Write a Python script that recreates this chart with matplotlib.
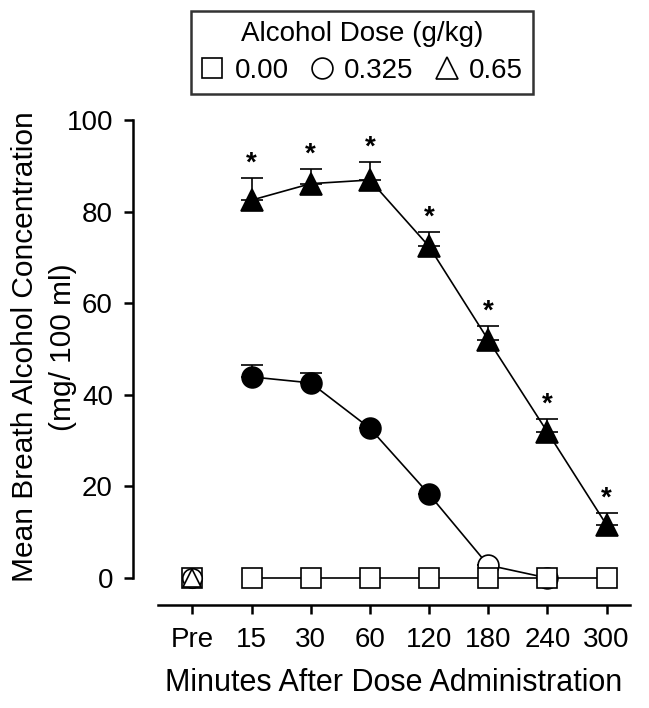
import numpy as np
import matplotlib.pyplot as plt
from matplotlib.lines import Line2D

plt.rcParams["font.family"] = ["Liberation Sans", "DejaVu Sans"]

# ==========================================================
# Data
# ==========================================================

categories = ["Pre", "15", "30", "60", "120", "180", "240", "300"]

dose_labels = ["0.00", "0.325", "0.65"]

bac_000 = [0, 0, 0, 0, 0, 0, 0, 0]
bac_0325 = [0, 43.9, 42.6, 32.7, 18.3, 2.8, 0, np.nan]
bac_065 = [0, 82.5, 86.1, 86.9, 72.4, 52.0, 31.9, 11.6]

sem_0325 = [0, 2.6, 2.1, 0, 0, 0, 0, 0]
sem_065 = [0, 4.8, 3.3, 3.9, 3.1, 3.1, 2.8, 2.6]

# filled = different from placebo
filled_0325 = [False, True, True, True, True, False, False, False]
filled_065 = [False, True, True, True, True, True, True, True]

signif_065 = [False, True, True, True, True, True, True, True]

ylabel_lines = ["Mean Breath Alcohol Concentration", "(mg/ 100 ml)"]

# ==========================================================
# Figure
# ==========================================================

fig = plt.figure(figsize=(6.49, 7.08), dpi=100)
ax = fig.add_axes([0.2435, 0.1455, 0.7275, 0.685])

x = np.arange(len(categories))
LW = 1.2
MS = 15
FS = 20

# post-dose lines (Pre is not connected)
post = x[1:]

# 0.65 triangles
ax.errorbar(post, bac_065[1:],
            yerr=[np.zeros(len(post)), sem_065[1:]],
            fmt="none", ecolor="black", elinewidth=LW,
            capsize=8, capthick=LW, zorder=2)
ax.plot(post, bac_065[1:], color="black", lw=LW, zorder=2)
for xi, yi, f in zip(x, bac_065, filled_065):
    if xi == 0:
        continue
    ax.plot(xi, yi, marker="^", ms=MS + 1,
            mfc="black" if f else "white", mec="black",
            mew=LW, zorder=3, clip_on=False)

# asterisks
for xi, yi, e, s in zip(x, bac_065, sem_065, signif_065):
    if s:
        ax.text(xi, yi + e + 0.3, "*", ha="center", va="bottom",
                fontsize=20, fontweight="bold")

# 0.325 circles
ax.errorbar(post, bac_0325[1:],
            yerr=[np.zeros(len(post)), sem_0325[1:]],
            fmt="none", ecolor="black", elinewidth=LW,
            capsize=8, capthick=LW, zorder=2)
ax.plot(post, bac_0325[1:], color="black", lw=LW, zorder=2)
for xi, yi, f in zip(x, bac_0325, filled_0325):
    if xi == 0 or np.isnan(yi):
        continue
    ax.plot(xi, yi, marker="o", ms=MS,
            mfc="black" if f else "white", mec="black",
            mew=LW, zorder=3, clip_on=False)

# 0.00 squares
ax.plot(post, bac_000[1:], color="black", lw=LW, zorder=4,
        marker="s", ms=MS - 1, mfc="white", mec="black", mew=LW,
        clip_on=False)

# Pre: square, circle, triangle stacked
ax.plot(0, bac_000[0], marker="s", ms=MS - 1, mfc="white", mec="black",
        mew=LW, zorder=5, clip_on=False)
ax.plot(0, bac_0325[0], marker="o", ms=MS - 1, mfc="white", mec="black",
        mew=LW, zorder=6, clip_on=False)
ax.plot(0, bac_065[0], marker="^", ms=MS - 2, mfc="white", mec="black",
        mew=LW, zorder=7, clip_on=False)

# ==========================================================
# Axes styling (Prism style)
# ==========================================================

ax.set_xlim(-0.58, 7.4)
ax.set_ylim(-5.9, 100)

ax.spines["top"].set_visible(False)
ax.spines["right"].set_visible(False)
ax.spines["left"].set_position(("outward", 18))
ax.spines["left"].set_bounds(0, 100)
ax.spines["left"].set_linewidth(1.8)
ax.spines["bottom"].set_linewidth(1.8)

ax.set_yticks([0, 20, 40, 60, 80, 100])
ax.set_xticks(x)
ax.set_xticklabels(categories)
ax.tick_params(axis="both", labelsize=FS, width=1.8, length=6.5,
               direction="out", colors="black")
ax.tick_params(axis="x", pad=9)
ax.tick_params(axis="y", pad=8)

ax.set_xlabel("Minutes After Dose Administration", fontsize=22,
              labelpad=11)

# two-line y label, one text per line
fig.text(25 / 649, 0.51, ylabel_lines[0], fontsize=21.5, rotation=90,
         ha="center", va="center")
fig.text(63 / 649, 0.51, ylabel_lines[1], fontsize=21.5, rotation=90,
         ha="center", va="center")

# ==========================================================
# Legend
# ==========================================================

handles = [
    Line2D([], [], ls="none", marker="s", ms=MS - 1, mfc="white",
           mec="black", mew=LW),
    Line2D([], [], ls="none", marker="o", ms=MS, mfc="white",
           mec="black", mew=LW),
    Line2D([], [], ls="none", marker="^", ms=MS + 1, mfc="white",
           mec="black", mew=LW),
]
leg = fig.legend(handles, dose_labels, title="Alcohol Dose (g/kg)",
                 ncol=3, loc="upper center",
                 bbox_to_anchor=(0.558, 0.9845), borderaxespad=0,
                 fontsize=FS, title_fontsize=FS,
                 frameon=True, fancybox=False, edgecolor="black",
                 handlelength=0.8, handletextpad=0.4, columnspacing=0.8,
                 borderpad=0.35, labelspacing=0.4)
leg.get_frame().set_linewidth(1.8)

fig.savefig("out.png", dpi=100)
